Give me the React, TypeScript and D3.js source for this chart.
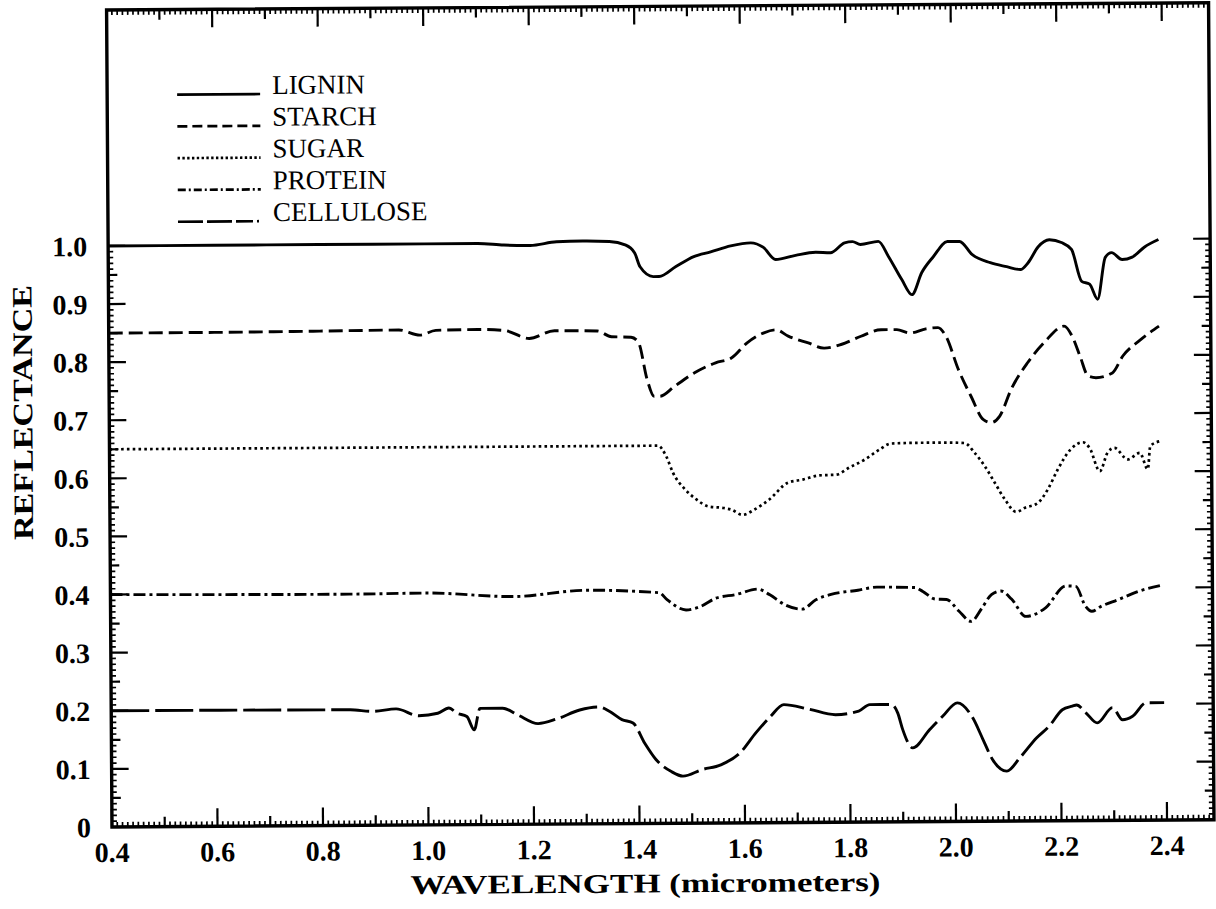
import React from 'react';
import * as d3 from 'd3';

// ---- data (wavelength in micrometers, reflectance) ----
const ligninWl = [0.40,0.60,0.80,1.00,1.10,1.15,1.20,1.25,1.30,1.35,1.380,1.398,1.408,1.433,1.444,1.476,1.510,1.542,1.580,1.618,1.642,1.665,1.703,1.741,1.769,1.796,1.811,1.826,1.860,1.879,1.904,1.923,1.942,1.964,1.991,2.014,2.038,2.072,2.103,2.129,2.144,2.163,2.184,2.207,2.226,2.245,2.260,2.275,2.290,2.302,2.322,2.341,2.364,2.391];
const ligninR = [1.000,1.000,1.000,1.000,1.000,0.997,0.996,1.002,1.003,1.002,0.996,0.982,0.958,0.941,0.941,0.958,0.975,0.983,0.993,0.998,0.990,0.969,0.976,0.981,0.980,0.997,0.999,0.994,0.999,0.973,0.933,0.907,0.945,0.972,0.998,0.998,0.975,0.961,0.954,0.949,0.961,0.988,1.000,0.995,0.983,0.928,0.923,0.897,0.969,0.977,0.965,0.969,0.986,0.999];

const starchWl = [0.40,0.60,0.80,0.95,0.99,1.02,1.10,1.15,1.197,1.245,1.326,1.353,1.390,1.404,1.420,1.433,1.444,1.472,1.510,1.550,1.580,1.610,1.642,1.665,1.688,1.726,1.756,1.788,1.826,1.864,1.894,1.919,1.949,1.972,1.987,2.010,2.034,2.057,2.072,2.088,2.110,2.141,2.173,2.211,2.226,2.241,2.256,2.271,2.302,2.322,2.356,2.391];
const starchR = [0.850,0.850,0.851,0.852,0.843,0.851,0.852,0.850,0.836,0.849,0.848,0.838,0.837,0.828,0.764,0.735,0.735,0.752,0.775,0.792,0.800,0.826,0.843,0.848,0.837,0.825,0.816,0.822,0.836,0.847,0.847,0.841,0.848,0.850,0.835,0.778,0.731,0.691,0.686,0.697,0.743,0.788,0.823,0.851,0.834,0.799,0.765,0.762,0.770,0.799,0.827,0.850];

const sugarWl = [0.40,0.80,1.20,1.440,1.455,1.468,1.491,1.512,1.534,1.563,1.578,1.599,1.622,1.650,1.686,1.714,1.745,1.777,1.802,1.832,1.860,1.881,1.940,1.989,2.021,2.040,2.059,2.078,2.097,2.118,2.135,2.159,2.178,2.197,2.222,2.245,2.258,2.277,2.292,2.305,2.330,2.353,2.368,2.373,2.392];
const sugarR = [0.650,0.650,0.650,0.650,0.632,0.603,0.574,0.557,0.545,0.542,0.539,0.530,0.539,0.556,0.585,0.590,0.597,0.598,0.610,0.624,0.641,0.651,0.652,0.652,0.651,0.634,0.611,0.582,0.553,0.532,0.539,0.547,0.570,0.604,0.639,0.651,0.641,0.601,0.633,0.641,0.621,0.632,0.604,0.644,0.652];

const proteinWl = [0.40,0.853,1.00,1.163,1.302,1.440,1.455,1.491,1.519,1.548,1.586,1.627,1.650,1.678,1.711,1.737,1.766,1.817,1.853,1.925,1.940,1.963,1.985,2.008,2.031,2.052,2.070,2.088,2.108,2.135,2.173,2.211,2.230,2.248,2.260,2.279,2.311,2.349,2.392];
const proteinR = [0.400,0.398,0.399,0.392,0.402,0.397,0.385,0.367,0.373,0.387,0.393,0.402,0.392,0.375,0.367,0.383,0.392,0.399,0.404,0.403,0.396,0.383,0.382,0.362,0.344,0.367,0.390,0.396,0.382,0.352,0.367,0.404,0.403,0.369,0.360,0.369,0.380,0.394,0.404];

const celluloseWl = [0.40,0.853,0.896,0.940,0.983,1.019,1.040,1.055,1.074,1.088,1.099,1.142,1.171,1.209,1.245,1.288,1.324,1.345,1.368,1.389,1.411,1.432,1.461,1.483,1.519,1.555,1.591,1.622,1.650,1.675,1.722,1.773,1.817,1.838,1.879,1.891,1.900,1.919,1.951,1.976,2.004,2.033,2.052,2.070,2.097,2.122,2.154,2.178,2.203,2.222,2.230,2.248,2.269,2.298,2.317,2.336,2.362,2.396];
const celluloseR = [0.200,0.199,0.196,0.200,0.188,0.192,0.201,0.192,0.186,0.163,0.200,0.200,0.188,0.173,0.181,0.196,0.201,0.193,0.179,0.173,0.138,0.110,0.089,0.081,0.092,0.100,0.120,0.155,0.183,0.203,0.195,0.185,0.191,0.202,0.202,0.187,0.159,0.127,0.158,0.181,0.204,0.178,0.141,0.106,0.086,0.109,0.143,0.163,0.191,0.197,0.199,0.185,0.168,0.194,0.173,0.179,0.202,0.202];

const seriesNames = ['LIGNIN', 'STARCH', 'SUGAR', 'PROTEIN', 'CELLULOSE'];

const xTickValues = [0.4, 0.6, 0.8, 1.0, 1.2, 1.4, 1.6, 1.8, 2.0, 2.2, 2.4];
const xTickLabels = ['0.4', '0.6', '0.8', '1.0', '1.2', '1.4', '1.6', '1.8', '2.0', '2.2', '2.4'];
const yTickValues = [0, 0.1, 0.2, 0.3, 0.4, 0.5, 0.6, 0.7, 0.8, 0.9, 1.0];
const yTickLabels = ['0', '0.1', '0.2', '0.3', '0.4', '0.5', '0.6', '0.7', '0.8', '0.9', '1.0'];

const xTitle = 'WAVELENGTH (micrometers)';
const yTitle = 'REFLECTANCE';

export default function App() {
  const W = 1216, H = 909;
  const left = 112, right = 1214, top = 10, bottom = 827;
  const x = d3.scaleLinear().domain([0.4, 2.489]).range([left, right]);
  const y = d3.scaleLinear().domain([0, 1.406]).range([bottom, top]);

  const serif = '"Liberation Serif", "Times New Roman", serif';

  const styles = [
    { dash: undefined, legendDash: undefined, width: 2.9 },
    { dash: '14,6', legendDash: '10,5', width: 2.9 },
    { dash: '2.6,3.2', legendDash: '2.4,2.4', width: 2.7 },
    { dash: '12,4,3,4', legendDash: '8,3,2,3', width: 2.9 },
    { dash: '38,6', legendDash: '25,4,25,4,17,4,2,10', width: 2.9 },
  ];
  const wls = [ligninWl, starchWl, sugarWl, proteinWl, celluloseWl];
  const rs = [ligninR, starchR, sugarR, proteinR, celluloseR];

  const line = d3
    .line<[number, number]>()
    .x((d) => x(d[0]))
    .y((d) => y(d[1]))
    .curve(d3.curveMonotoneX);

  const xMinor = d3.range(40, 249).map((i) => ({ v: i / 100, i }));
  const yMinor = d3.range(0, 101).map((i) => ({ v: i / 100, i }));
  const xLen = (i: number) => (i % 20 === 0 ? 18 : i % 10 === 0 ? 10 : 5);
  const yLen = (i: number) => (i % 10 === 0 ? 17 : i % 5 === 0 ? 9 : 5);
  const tw = (i: number, m: number) => (i % m === 0 ? 2.2 : 1.7);

  return (
    <svg
      width={W}
      height={H}
      style={{ position: 'absolute', left: 0, top: 0, background: '#fff' }}
    >
      <rect x={0} y={0} width={W} height={H} fill="#fff" />
      <g transform={`rotate(-0.38 ${left} ${bottom})`}>
        {/* ticks bottom & top */}
        {xMinor.map(({ v, i }) => (
          <g key={'xt' + i}>
            <line x1={x(v)} x2={x(v)} y1={bottom} y2={bottom - xLen(i)} stroke="#000" strokeWidth={tw(i, 10)} />
            <line x1={x(v)} x2={x(v)} y1={top} y2={top + xLen(i)} stroke="#000" strokeWidth={tw(i, 10)} />
          </g>
        ))}
        {/* ticks left & right */}
        {yMinor.map(({ v, i }) => (
          <g key={'yt' + i}>
            <line x1={left} x2={left + yLen(i)} y1={y(v)} y2={y(v)} stroke="#000" strokeWidth={tw(i, 5)} />
            <line x1={right} x2={right - yLen(i)} y1={y(v)} y2={y(v)} stroke="#000" strokeWidth={tw(i, 5)} />
          </g>
        ))}
        {/* frame */}
        <rect x={left} y={top} width={right - left} height={bottom - top} fill="none" stroke="#000" strokeWidth={3.4} />

        {/* series */}
        {seriesNames.map((name, k) => {
          const pts = wls[k].map((w, j) => [w, rs[k][j]] as [number, number]);
          return (
            <path
              key={name}
              d={line(pts) || ''}
              fill="none"
              stroke="#000"
              strokeWidth={styles[k].width}
              strokeDasharray={styles[k].dash}
              strokeLinejoin="round"
            />
          );
        })}

        {/* legend */}
        {seriesNames.map((name, k) => {
          const by = 95 + k * 31.8;
          return (
            <g key={'lg' + name}>
              <line x1={182} x2={265} y1={by} y2={by} stroke="#000" strokeWidth={2.7} strokeDasharray={styles[k].legendDash} />
              <text x={277} y={by} fontFamily={serif} fontSize={27} fill="#000">
                {name}
              </text>
            </g>
          );
        })}

        {/* x tick labels */}
        {xTickValues.map((v, k) => (
          <text key={'xl' + k} x={x(v)} y={862} textAnchor="middle" fontFamily={serif} fontWeight="bold" fontSize={28} fill="#000">
            {xTickLabels[k]}
          </text>
        ))}
        {/* y tick labels */}
        {yTickValues.map((v, k) => (
          <text key={'yl' + k} x={91} y={y(v) + 10} textAnchor="end" fontFamily={serif} fontWeight="bold" fontSize={28} fill="#000">
            {yTickLabels[k]}
          </text>
        ))}
        {/* axis titles */}
        <text x={645} y={896} textAnchor="middle" fontFamily={serif} fontWeight="bold" fontSize={27} textLength={470} lengthAdjust="spacingAndGlyphs" fill="#000">
          {xTitle}
        </text>
        <text
          transform={`translate(35, 412) rotate(-90)`}
          textAnchor="middle"
          fontFamily={serif}
          fontWeight="bold"
          fontSize={28}
          textLength={255}
          lengthAdjust="spacingAndGlyphs"
          fill="#000"
        >
          {yTitle}
        </text>
      </g>
    </svg>
  );
}
